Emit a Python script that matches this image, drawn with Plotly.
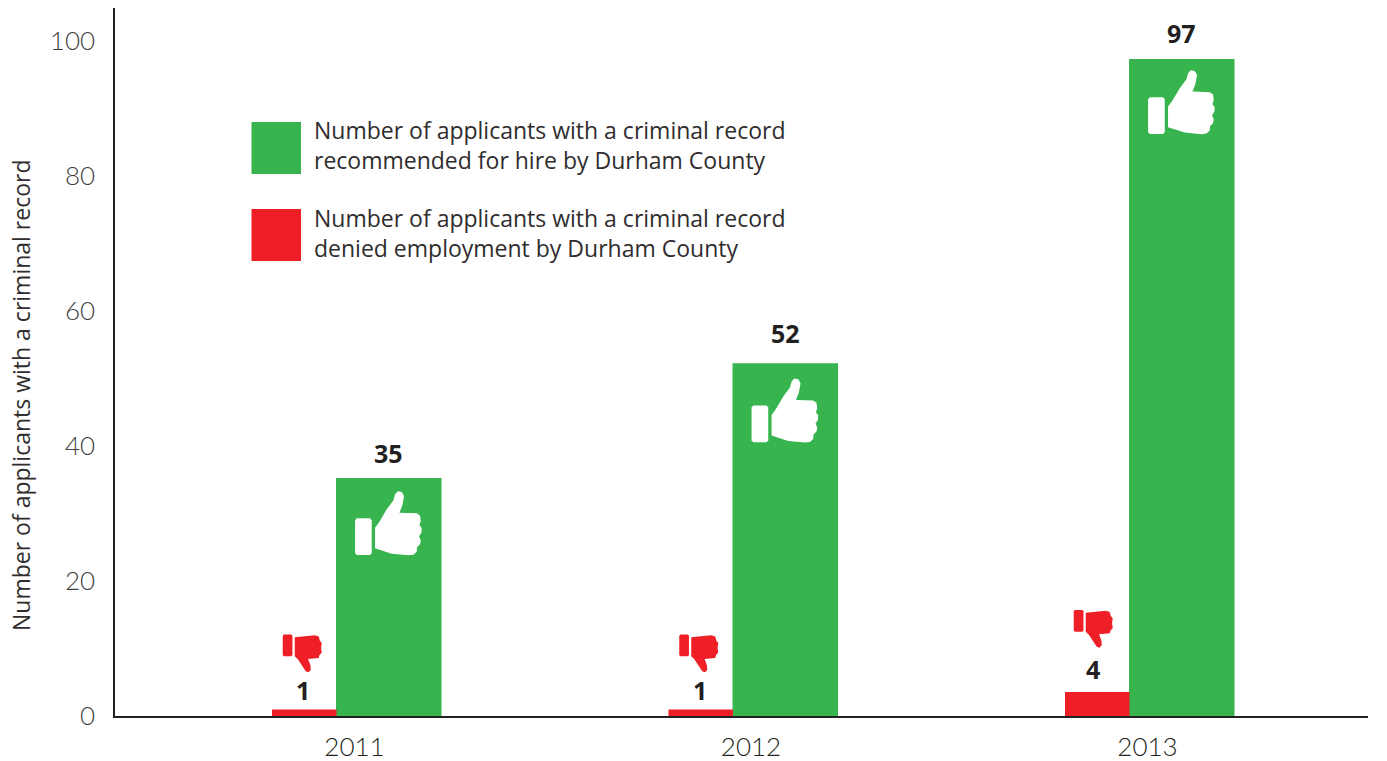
import plotly.graph_objects as go

years = [2011, 2012, 2013]
hired_heights = [35.25, 52.25, 97.35]
denied_heights = [0.95, 0.95, 3.55]
hired_labels = ["35", "52", "97"]
denied_labels = ["1", "1", "4"]
y_ticks = [0, 20, 40, 60, 80, 100]
y_title = "Number of applicants with a criminal record"
legend_hired = "Number of applicants with a criminal record<br>recommended for hire by Durham County"
legend_denied = "Number of applicants with a criminal record<br>denied employment by Durham County"

GREEN = "#37b44e"
RED = "#ee1f27"
DARK = "#231f20"
GREY = "#3f3f41"
TEXT_FONT = "Open Sans"

W, H = 1387, 761
L, R, T, B = 115, 19, 8, 45
PX_PER_YEAR = 396.5
PX_PER_UNIT = 6.75
X0 = 2011 - (354.5 - L) / PX_PER_YEAR
X1 = X0 + (W - L - R) / PX_PER_YEAR
Y1 = (H - T - B) / PX_PER_UNIT

RED_OFFSET, RED_WIDTH = -82.5 / PX_PER_YEAR, 64.5 / PX_PER_YEAR
GREEN_OFFSET, GREEN_WIDTH = -18.5 / PX_PER_YEAR, 105.5 / PX_PER_YEAR


def poly(points):
    return "M" + " L".join(f"{x:.1f},{y:.1f}" for x, y in points) + " Z"


# icon outlines, in pixels from the top-centre of the bar they sit on
UP_CUFF = [(55, 268), (60, 262), (100, 262), (105, 268), (105, 366), (100, 372), (60, 372), (55, 366)]
UP_HAND = [(115, 290), (128, 272), (150, 235), (170, 208), (175, 190), (183, 181), (195, 183), (202, 195),
           (197, 222), (188, 245), (240, 247), (250, 254), (252, 270), (248, 282), (255, 292), (254, 305),
           (247, 316), (252, 328), (250, 340), (241, 349), (240, 362), (230, 371), (215, 373), (165, 368),
           (115, 352)]
DOWN_CUFF = [(69, 34), (72, 30), (95, 30), (98, 34), (98, 91), (95, 95), (72, 95), (69, 91)]
DOWN_HAND = [(105, 38), (165, 32), (177, 36), (180, 48), (186, 55), (184, 70), (186, 84), (179, 92),
             (177, 100), (145, 103), (152, 122), (153, 136), (146, 143), (138, 140), (128, 125), (115, 105),
             (105, 95)]


def up_path(pts):
    return poly([(zx / 3 - 52, -(zy / 3 - 49)) for zx, zy in pts])


def down_path(pts):
    return poly([((zx - 139.5) / 3, -(zy - 276) / 3) for zx, zy in pts])


fig = go.Figure()
fig.add_bar(x=years, y=hired_heights, offset=GREEN_OFFSET, width=GREEN_WIDTH,
            marker=dict(color=GREEN, line_width=0), name="Recommended for hire")
fig.add_bar(x=years, y=denied_heights, offset=RED_OFFSET, width=RED_WIDTH,
            marker=dict(color=RED, line_width=0), name="Denied employment")

annotations = []
shapes = []
label_font = dict(family="Open Sans", size=25, color=DARK, weight=700)
up_dy = [-2, -4, 0]
down_nudge = [(2, -7), (2, -7), (0, 0)]
green_shift = [25, 30, 26]
red_shift = [(-1, 20), (-1, 20), (-4, 23)]
for i, yr in enumerate(years):
    gx = yr + GREEN_OFFSET + GREEN_WIDTH / 2
    rx = yr + RED_OFFSET + RED_WIDTH / 2
    annotations.append(dict(x=gx, y=hired_heights[i], text=hired_labels[i], showarrow=False,
                            yshift=green_shift[i], font=label_font))
    annotations.append(dict(x=rx, y=denied_heights[i], text=denied_labels[i], showarrow=False,
                            xshift=red_shift[i][0], yshift=red_shift[i][1], font=label_font))
    for pts in (UP_CUFF, UP_HAND):
        shapes.append(dict(type="path", xsizemode="pixel", ysizemode="pixel", xanchor=gx,
                           yanchor=hired_heights[i] + up_dy[i] / PX_PER_UNIT,
                           path=up_path(pts), fillcolor="white", line_width=0))
    for pts in (DOWN_CUFF, DOWN_HAND):
        dx, dy = down_nudge[i]
        shapes.append(dict(type="path", xsizemode="pixel", ysizemode="pixel", xanchor=rx,
                           yanchor=denied_heights[i] + dy / PX_PER_UNIT,
                           path=down_path([(x + dx * 3, y) for x, y in pts]), fillcolor=RED, line_width=0))


def px(x):
    return (x - L) / (W - L - R)


def py(y):
    return 1 - (y - T) / (H - T - B)


for top, bottom, colour, text, cy in [(122, 174, GREEN, legend_hired, 145),
                                      (209, 261, RED, legend_denied, 233)]:
    shapes.append(dict(type="rect", xref="paper", yref="paper", x0=px(251.5), x1=px(301),
                       y0=py(bottom), y1=py(top), fillcolor=colour, line_width=0))
    annotations.append(dict(xref="paper", yref="paper", x=px(313), y=py(cy), xanchor="left", yanchor="middle",
                            align="left", showarrow=False, text=text, borderpad=0,
                            font=dict(family=TEXT_FONT, size=23, color="#2f2d2e")))

annotations.append(dict(xref="paper", yref="paper", x=px(21), y=py(395), textangle=-90, xanchor="center",
                        yanchor="middle", showarrow=False, text=y_title, borderpad=0,
                        font=dict(family=TEXT_FONT, size=23, color="#2f2d2e")))

fig.update_layout(
    width=W, height=H, margin=dict(l=L, r=R, t=T, b=B, pad=0, autoexpand=False),
    paper_bgcolor="white", plot_bgcolor="white", barmode="overlay", showlegend=False,
    annotations=annotations, shapes=shapes,
    xaxis=dict(range=[X0, X1], tickmode="array", tickvals=years, ticktext=[str(y) for y in years],
               showgrid=False, zeroline=False, showline=True, linecolor=DARK, linewidth=1.5, ticks="",
               ticklabelstandoff=7, tickfont=dict(family="Lato", size=26, color=DARK, weight=300)),
    yaxis=dict(range=[0, Y1], tickmode="array", tickvals=y_ticks, showgrid=False, zeroline=False,
               showline=True, linecolor=DARK, linewidth=1.5, ticks="", ticklabelstandoff=13,
               tickfont=dict(family="Lato", size=26, color=GREY, weight=300)),
)

fig.write_html("out.html", post_script="document.body.style.margin='0';", config=dict(displayModeBar=False))
